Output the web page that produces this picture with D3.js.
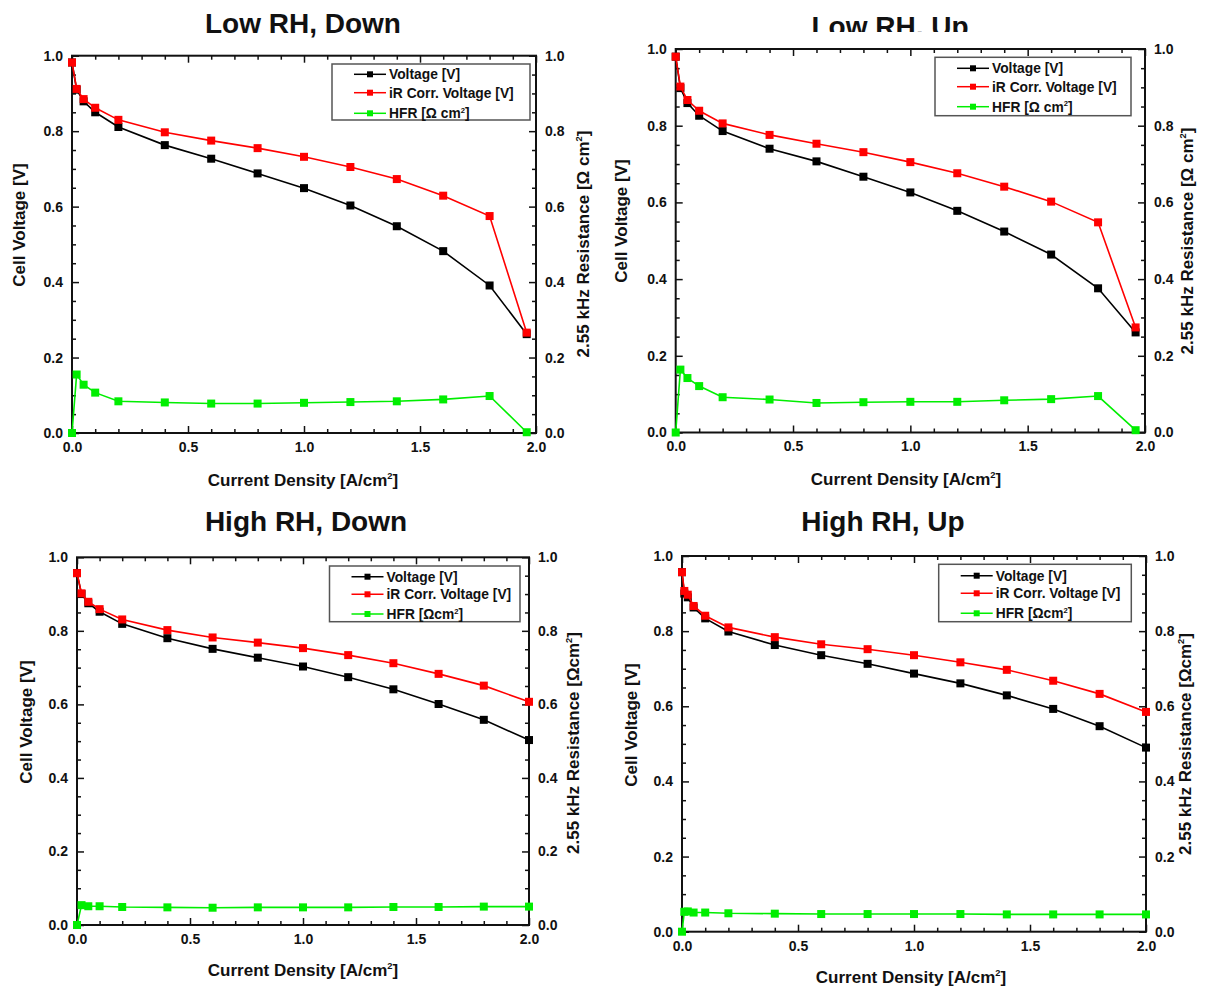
<!DOCTYPE html>
<html>
<head>
<meta charset="utf-8">
<script src="https://cdn.jsdelivr.net/npm/d3@7"></script>
<style>
  body { margin: 0; background: #fff; }
  svg { display: block; }
  text { font-family: "Liberation Sans", Arial, sans-serif; font-weight: bold; fill: #111; }
</style>
</head>
<body>
<div id="chart"></div>
<script>
// current density points [A/cm2]
var currentLowRH = [0, 0.02, 0.05, 0.1, 0.2, 0.4, 0.6, 0.8, 1.0, 1.2, 1.4, 1.6, 1.8, 1.96];
var currentHighRHDown = [0, 0.02, 0.05, 0.1, 0.2, 0.4, 0.6, 0.8, 1.0, 1.2, 1.4, 1.6, 1.8, 2.0];
var currentHighRHUp = [0, 0.01, 0.025, 0.05, 0.1, 0.2, 0.4, 0.6, 0.8, 1.0, 1.2, 1.4, 1.6, 1.8, 2.0];

// Low RH, Down
var lowDownVoltage = [0.982, 0.910, 0.879, 0.850, 0.811, 0.763, 0.727, 0.688, 0.649, 0.603, 0.548, 0.482, 0.391, 0.262];
var lowDownIRCorr  = [0.982, 0.912, 0.885, 0.862, 0.830, 0.797, 0.775, 0.755, 0.732, 0.705, 0.673, 0.629, 0.575, 0.266];
var lowDownHFR     = [0, 0.155, 0.128, 0.107, 0.084, 0.081, 0.078, 0.078, 0.080, 0.082, 0.084, 0.089, 0.098, 0.002];

// Low RH, Up
var lowUpVoltage = [0.980, 0.898, 0.859, 0.826, 0.786, 0.740, 0.707, 0.667, 0.626, 0.578, 0.524, 0.464, 0.376, 0.261];
var lowUpIRCorr  = [0.980, 0.902, 0.867, 0.839, 0.806, 0.776, 0.753, 0.731, 0.705, 0.676, 0.641, 0.602, 0.548, 0.274];
var lowUpHFR     = [0, 0.164, 0.142, 0.121, 0.092, 0.086, 0.077, 0.079, 0.080, 0.080, 0.084, 0.087, 0.095, 0.006];

// High RH, Down
var highDownVoltage = [0.957, 0.900, 0.875, 0.852, 0.819, 0.780, 0.751, 0.727, 0.703, 0.674, 0.641, 0.601, 0.558, 0.503];
var highDownIRCorr  = [0.957, 0.902, 0.879, 0.859, 0.831, 0.802, 0.782, 0.768, 0.753, 0.734, 0.712, 0.683, 0.651, 0.607];
var highDownHFR     = [0, 0.054, 0.051, 0.051, 0.049, 0.048, 0.047, 0.048, 0.048, 0.048, 0.049, 0.049, 0.050, 0.050];

// High RH, Up
var highUpVoltage = [0.957, 0.900, 0.890, 0.863, 0.834, 0.799, 0.763, 0.736, 0.713, 0.687, 0.661, 0.629, 0.593, 0.547, 0.490];
var highUpIRCorr  = [0.957, 0.907, 0.897, 0.867, 0.841, 0.810, 0.784, 0.765, 0.752, 0.736, 0.717, 0.697, 0.668, 0.633, 0.585];
var highUpHFR     = [0, 0.053, 0.054, 0.051, 0.051, 0.049, 0.048, 0.047, 0.047, 0.047, 0.047, 0.046, 0.046, 0.046, 0.046];

var titles = ["Low RH, Down", "Low RH, Up", "High RH, Down", "High RH, Up"];
var seriesNames = ["Voltage [V]", "iR Corr. Voltage [V]", "HFR"];
var seriesColors = ["#000000", "#ff0000", "#00ee00"];

var xMajorTicks = [0, 0.5, 1.0, 1.5, 2.0];
var yMajorTicks = [0, 0.2, 0.4, 0.6, 0.8, 1.0];

var svg = d3.select("#chart").append("svg")
    .attr("width", 1206)
    .attr("height", 990);

svg.append("defs").append("clipPath")
    .attr("id", "titleClip")
    .append("rect").attr("x", 600).attr("y", 0).attr("width", 606).attr("height", 32);

// layout of every panel (plot box, legend box, label spots)
var panels = [
    { title: titles[0], titleX: 303, titleY: 33, clip: false,
      box: { left: 72, right: 536, top: 55.7, bottom: 433 },
      legend: { x: 332, y: 64, w: 198, h: 56, rows: [10.3, 28.7, 49.3] },
      yTitle: [25, 225], rTitle: [589, 244], xTitle: [303, 486], spaced: true,
      x: currentLowRH, v: lowDownVoltage, ir: lowDownIRCorr, hfr: lowDownHFR },
    { title: titles[1], titleX: 890, titleY: 36, clip: true,
      box: { left: 675.7, right: 1145, top: 49, bottom: 432.5 },
      legend: { x: 935, y: 57.3, w: 196, h: 58.4, rows: [11, 29.4, 49.4] },
      yTitle: [627, 221], rTitle: [1193, 241], xTitle: [906, 485], spaced: true,
      x: currentLowRH, v: lowUpVoltage, ir: lowUpIRCorr, hfr: lowUpHFR },
    { title: titles[2], titleX: 306, titleY: 531, clip: false,
      box: { left: 77, right: 529, top: 557.3, bottom: 925 },
      legend: { x: 329.5, y: 566, w: 190.5, h: 55.7, rows: [10.7, 28.3, 48] },
      yTitle: [32, 722], rTitle: [579, 743], xTitle: [303, 976], spaced: false,
      x: currentHighRHDown, v: highDownVoltage, ir: highDownIRCorr, hfr: highDownHFR },
    { title: titles[3], titleX: 883, titleY: 531, clip: false,
      box: { left: 682, right: 1146, top: 556, bottom: 931.7 },
      legend: { x: 938.7, y: 564.3, w: 192.6, h: 57.4, rows: [11.4, 29, 49] },
      yTitle: [637, 725], rTitle: [1191, 744], xTitle: [911, 983], spaced: false,
      x: currentHighRHUp, v: highUpVoltage, ir: highUpIRCorr, hfr: highUpHFR }
];

function addCm2(sel, before, after, spaced) {
    sel.append("tspan").text(before);
    if (spaced) sel.append("tspan").text(" ");
    sel.append("tspan").text("cm");
    sel.append("tspan").attr("font-size", "0.55em").attr("dy", "-0.7em").text("2");
    sel.append("tspan").attr("dy", "0.39em").text(after);
}

function drawPanel(p) {
    var g = svg.append("g");
    var b = p.box;

    var x = d3.scaleLinear().domain([0, 2]).range([b.left, b.right]);
    var y = d3.scaleLinear().domain([0, 1]).range([b.bottom, b.top]);

    var xMinor = d3.range(0, 2.01, 0.1).filter(function(d) { return Math.abs(d * 2 - Math.round(d * 2)) > 1e-6; });
    var yMinor = d3.range(0, 1.01, 0.05).filter(function(d) { return Math.abs(d * 5 - Math.round(d * 5)) > 1e-6; });

    function styleAxis(a) {
        a.select(".domain").remove();
        a.selectAll(".tick line").attr("stroke", "#111").attr("stroke-width", 1.5);
        a.selectAll("text").attr("font-size", 14).attr("fill", "#111")
            .attr("font-family", "'Liberation Sans', Arial, sans-serif");
    }

    // bottom
    g.append("g").attr("transform", "translate(0," + b.bottom + ")")
        .call(d3.axisBottom(x).tickValues(xMajorTicks).tickSizeInner(-7).tickSizeOuter(0).tickPadding(9).tickFormat(d3.format(".1f")))
        .call(styleAxis);
    g.append("g").attr("transform", "translate(0," + b.bottom + ")")
        .call(d3.axisBottom(x).tickValues(xMinor).tickSizeInner(-4).tickSizeOuter(0).tickFormat(""))
        .call(styleAxis);
    // top
    g.append("g").attr("transform", "translate(0," + b.top + ")")
        .call(d3.axisTop(x).tickValues(xMajorTicks).tickSizeInner(-7).tickSizeOuter(0).tickFormat(""))
        .call(styleAxis);
    g.append("g").attr("transform", "translate(0," + b.top + ")")
        .call(d3.axisTop(x).tickValues(xMinor).tickSizeInner(-4).tickSizeOuter(0).tickFormat(""))
        .call(styleAxis);
    // left
    g.append("g").attr("transform", "translate(" + b.left + ",0)")
        .call(d3.axisLeft(y).tickValues(yMajorTicks).tickSizeInner(-7).tickSizeOuter(0).tickPadding(9).tickFormat(d3.format(".1f")))
        .call(styleAxis);
    g.append("g").attr("transform", "translate(" + b.left + ",0)")
        .call(d3.axisLeft(y).tickValues(yMinor).tickSizeInner(-4).tickSizeOuter(0).tickFormat(""))
        .call(styleAxis);
    // right
    g.append("g").attr("transform", "translate(" + b.right + ",0)")
        .call(d3.axisRight(y).tickValues(yMajorTicks).tickSizeInner(-7).tickSizeOuter(0).tickPadding(9).tickFormat(d3.format(".1f")))
        .call(styleAxis);
    g.append("g").attr("transform", "translate(" + b.right + ",0)")
        .call(d3.axisRight(y).tickValues(yMinor).tickSizeInner(-4).tickSizeOuter(0).tickFormat(""))
        .call(styleAxis);

    // frame
    g.append("rect")
        .attr("x", b.left).attr("y", b.top)
        .attr("width", b.right - b.left).attr("height", b.bottom - b.top)
        .attr("fill", "none").attr("stroke", "#111").attr("stroke-width", 2);

    // series
    var lists = [p.v, p.ir, p.hfr];
    lists.forEach(function(vals, i) {
        var pts = p.x.map(function(xv, k) { return [xv, vals[k]]; });
        var line = d3.line().x(function(d) { return x(d[0]); }).y(function(d) { return y(d[1]); });
        g.append("path").datum(pts)
            .attr("d", line)
            .attr("fill", "none")
            .attr("stroke", seriesColors[i])
            .attr("stroke-width", 1.6);
        g.selectAll(".m" + i).data(pts).enter().append("rect")
            .attr("x", function(d) { return x(d[0]) - 4; })
            .attr("y", function(d) { return y(d[1]) - 4; })
            .attr("width", 8).attr("height", 8)
            .attr("fill", seriesColors[i]);
    });

    // legend
    var L = p.legend;
    var lg = g.append("g").attr("transform", "translate(" + L.x + "," + L.y + ")");
    lg.append("rect").attr("width", L.w).attr("height", L.h)
        .attr("fill", "#fff").attr("stroke", "#555").attr("stroke-width", 1.5);
    seriesNames.forEach(function(name, i) {
        var ry = L.rows[i];
        lg.append("line").attr("x1", 22).attr("x2", 54).attr("y1", ry).attr("y2", ry)
            .attr("stroke", seriesColors[i]).attr("stroke-width", 1.5);
        lg.append("rect").attr("x", 35).attr("y", ry - 3).attr("width", 6).attr("height", 6)
            .attr("fill", seriesColors[i]);
        var t = lg.append("text").attr("x", 57).attr("y", ry + 5).attr("font-size", 13.8);
        if (i < 2) {
            t.text(name);
        } else {
            addCm2(t, "HFR [\u03A9", "]", p.spaced);
        }
    });

    // axis titles
    var xt = g.append("text").attr("x", p.xTitle[0]).attr("y", p.xTitle[1])
        .attr("text-anchor", "middle").attr("font-size", 17);
    xt.append("tspan").text("Current Density [A/");
    addCm2(xt, "", "]", false);

    g.append("text")
        .attr("transform", "translate(" + p.yTitle[0] + "," + p.yTitle[1] + ") rotate(-90)")
        .attr("text-anchor", "middle").attr("font-size", 17)
        .text("Cell Voltage [V]");

    var rt = g.append("text")
        .attr("transform", "translate(" + p.rTitle[0] + "," + p.rTitle[1] + ") rotate(-90)")
        .attr("text-anchor", "middle").attr("font-size", 17);
    addCm2(rt, "2.55 kHz Resistance [\u03A9", "]", p.spaced);

    // panel title
    var tt = svg.append("text")
        .attr("x", p.titleX).attr("y", p.titleY)
        .attr("text-anchor", "middle")
        .attr("font-family", "'Open Sans', sans-serif")
        .attr("font-weight", 700)
        .attr("font-size", 28)
        .text(p.title);
    if (p.clip) tt.attr("clip-path", "url(#titleClip)");
}

panels.forEach(drawPanel);
</script>
</body>
</html>
